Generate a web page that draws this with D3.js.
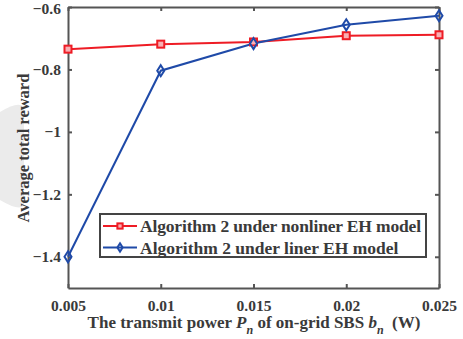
<!DOCTYPE html>
<html>
<head>
<meta charset="utf-8">
<script src="https://cdn.jsdelivr.net/npm/d3@7"></script>
<style>
  body { margin: 0; background: #fff; }
  text { font-family: 'Liberation Serif', 'Times New Roman', serif; font-weight: bold; fill: #3a3a3a; }
</style>
</head>
<body>
<div class="chart"></div>
<script>
let powers = [0.005, 0.01, 0.015, 0.02, 0.025];
let nonlinerReward = [-0.735, -0.719, -0.712, -0.692, -0.689];
let linerReward = [-1.400, -0.804, -0.717, -0.657, -0.628];
let xTicks = [0.005, 0.01, 0.015, 0.02, 0.025];
let yTicks = [-1.4, -1.2, -1, -0.8, -0.6];
let seriesNames = ['Algorithm 2 under nonliner EH model', 'Algorithm 2 under liner EH model'];

let config = {
  width: 463,
  height: 339,
  left: 68,
  right: 439,
  top: 7,
  bottom: 288,
  axisColor: '#555',
  colors: ['#ee1c25', '#1f4aa8']
};

let svg = d3.select('div.chart').append('svg')
  .attr('width', config.width)
  .attr('height', config.height);

// faint watermark shape at the left edge
svg.append('path')
  .attr('d', 'M0,112 Q20,100 24,108 L24,205 Q20,212 0,200 Z')
  .attr('fill', '#ebebeb');

let x = d3.scaleLinear().domain([0.005, 0.025]).range([config.left, config.right]);
let y = d3.scaleLinear().domain([-1.5, -0.6]).range([config.bottom, config.top]);

// box with inward ticks
let tickLen = 4;
let axisG = svg.append('g');
axisG.append('g').attr('transform', `translate(0,${config.bottom})`)
  .call(d3.axisBottom(x).tickValues(xTicks).tickSizeInner(-tickLen).tickSizeOuter(0).tickPadding(12).tickFormat(d3.format('')));
axisG.append('g').attr('transform', `translate(0,${config.top})`)
  .call(d3.axisTop(x).tickValues(xTicks).tickSizeInner(-tickLen).tickSizeOuter(0).tickFormat(''));
let yAxisG = axisG.append('g').attr('transform', `translate(${config.left},0)`)
  .call(d3.axisLeft(y).tickValues(yTicks).tickSizeInner(-tickLen).tickSizeOuter(0).tickPadding(7).tickFormat(d => d3.format('')(d)));
axisG.append('g').attr('transform', `translate(${config.right},0)`)
  .call(d3.axisRight(y).tickValues(yTicks).tickSizeInner(-tickLen).tickSizeOuter(0).tickFormat(''));

axisG.selectAll('.domain').attr('stroke', config.axisColor).attr('stroke-width', 2);
axisG.selectAll('.tick line').attr('stroke', config.axisColor).attr('stroke-width', 2);
axisG.selectAll('.tick text')
  .attr('font-size', 15.5)
  .attr('font-family', "'Liberation Serif', serif")
  .attr('font-weight', 'bold')
  .attr('fill', '#3a3a3a');
// top label sits right at the edge, push it down a touch
yAxisG.selectAll('.tick text').filter(d => d === -0.6).attr('dy', '0.45em');

let line = d3.line().x((d, i) => x(powers[i])).y(d => y(d));

let allSeries = [nonlinerReward, linerReward];
allSeries.forEach((s, k) => {
  svg.append('path')
    .datum(s)
    .attr('d', line)
    .attr('fill', 'none')
    .attr('stroke', config.colors[k])
    .attr('stroke-width', 2);
});

function marker(g, k, cx, cy, s) {
  if (k === 0) {
    g.append('rect')
      .attr('x', cx - 3.5 * s).attr('y', cy - 3.5 * s)
      .attr('width', 7 * s).attr('height', 7 * s)
      .attr('fill', '#f8b0b4')
      .attr('stroke', config.colors[0])
      .attr('stroke-width', 2);
  } else {
    g.append('path')
      .attr('d', `M${cx},${cy - 5.5 * s}L${cx + 3.5 * s},${cy}L${cx},${cy + 5.5 * s}L${cx - 3.5 * s},${cy}Z`)
      .attr('fill', 'none')
      .attr('stroke', config.colors[1])
      .attr('stroke-width', 2);
  }
}

let markerG = svg.append('g');
allSeries.forEach((s, k) => {
  s.forEach((v, i) => marker(markerG, k, x(powers[i]), y(v), 1));
});

// legend
let legend = svg.append('g');
legend.append('rect')
  .attr('x', 100).attr('y', 214)
  .attr('width', 326).attr('height', 43)
  .attr('fill', '#fff')
  .attr('stroke', '#444')
  .attr('stroke-width', 2);
seriesNames.forEach((name, k) => {
  let ly = 226 + k * 21.5;
  legend.append('line')
    .attr('x1', 103).attr('x2', 137)
    .attr('y1', ly).attr('y2', ly)
    .attr('stroke', config.colors[k])
    .attr('stroke-width', 2);
  marker(legend, k, 120, ly, 0.75);
  let t = legend.append('text')
    .attr('x', 140).attr('y', ly + 6)
    .attr('font-size', 17.5)
    .text(name);
  if (k === 0) t.attr('textLength', 281);
});

// axis labels
svg.append('text')
  .attr('transform', 'translate(29,148) rotate(-90)')
  .attr('text-anchor', 'middle')
  .attr('font-size', 16.5)
  .text('Average total reward');

let xl = svg.append('text')
  .attr('x', 254).attr('y', 328)
  .attr('text-anchor', 'middle')
  .attr('font-size', 17);
xl.append('tspan').text('The transmit power ');
xl.append('tspan').attr('font-style', 'italic').text('P');
xl.append('tspan').attr('font-style', 'italic').attr('font-size', 12).attr('dy', 6).text('n');
xl.append('tspan').attr('dy', -6).text(' of on-grid SBS ');
xl.append('tspan').attr('font-style', 'italic').text('b');
xl.append('tspan').attr('font-style', 'italic').attr('font-size', 12).attr('dy', 6).text('n');
xl.append('tspan').attr('dy', -6).text('\u2002(W)');
</script>
</body>
</html>
